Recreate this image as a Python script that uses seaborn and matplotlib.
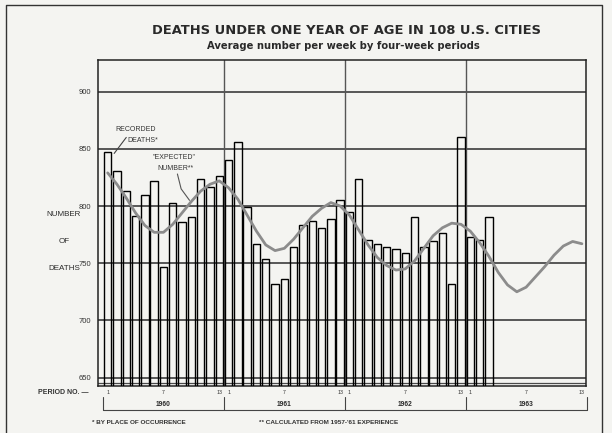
import numpy as np
import pandas as pd
import matplotlib
matplotlib.use('Agg')
import matplotlib.pyplot as plt
import matplotlib.transforms as mtransforms
from matplotlib.lines import Line2D
import seaborn as sns

# Datos (promedio semanal por periodo de 4 semanas)
years = [1960, 1961, 1962, 1963]
recorded_1960 = [847, 831, 813, 791, 810, 822, 747, 803, 786, 790, 824, 817, 826]
recorded_1961 = [840, 856, 799, 767, 754, 732, 736, 764, 783, 787, 781, 789, 805]
recorded_1962 = [795, 824, 770, 767, 764, 762, 759, 790, 764, 769, 776, 732, 860]
recorded_1963 = [773, 770, 790]

expected_1960 = [829, 819, 807, 794, 783, 777, 777, 784, 794, 804, 813, 819, 822]
expected_1961 = [816, 806, 792, 778, 766, 761, 763, 771, 781, 791, 798, 803, 800]
expected_1962 = [792, 779, 766, 755, 748, 744, 745, 752, 763, 774, 781, 785, 784]
expected_1963 = [778, 768, 756, 742, 731, 725, 729, 738, 747, 757, 765, 769, 767]

y_ticks = [650, 700, 750, 800, 850, 900]
period_labels = ['1', '7', '13']

recorded = recorded_1960 + recorded_1961 + recorded_1962 + recorded_1963
expected = expected_1960 + expected_1961 + expected_1962 + expected_1963

bars = pd.DataFrame({'pos': np.arange(len(recorded)) + 0.5, 'deaths': recorded})
curve = pd.DataFrame({'pos': np.arange(len(expected)) + 0.5, 'deaths': expected})

W, H = 612, 433
def fx(px):
    return px / W
def fy(py):
    return 1 - py / H

sns.set_theme(style='white')
plt.rcParams['font.family'] = ['Liberation Sans', 'DejaVu Sans']
narrow = ['Liberation Sans Narrow', 'Liberation Sans']

bg = '#f4f4f1'
ink = '#2a2a2a'
fig = plt.figure(figsize=(6.12, 4.33), dpi=100, facecolor=bg)
ax = fig.add_axes([fx(98), fy(386), fx(586) - fx(98), fy(60) - fy(386)])
ax.set_facecolor(bg)

# lineas de cuadricula
for v in y_ticks:
    ax.axhline(v, color='#4a4a4a', lw=1.3, zorder=1)
ax.axhline(645.5, color='#4a4a4a', lw=0.9, zorder=1)
for b in [13, 26, 39]:
    ax.axvline(b, color='#555555', lw=1.0, zorder=1)

# barras de defunciones registradas
sns.barplot(data=bars, x='pos', y='deaths', native_scale=True, fill=False,
            color='black', width=0.8, linewidth=1.0, errorbar=None, ax=ax, zorder=3)

# curva "esperada"
sns.lineplot(data=curve, x='pos', y='deaths', color='#8c8c8c', lw=2.0, ax=ax, zorder=4)

ax.set_xlim(-0.54, 51.94)
ax.set_ylim(642.6, 927.7)
ax.set_xticks([])
ax.set_yticks(y_ticks)
ax.set_yticklabels([str(v) for v in y_ticks], fontsize=5.5, color='#333333')
ax.tick_params(axis='y', direction='out', length=4, width=0.8, color='#333333', pad=1)
ax.set_xlabel('')
ax.set_ylabel('')
for s in ax.spines.values():
    s.set_color('#222222')
    s.set_linewidth(1.1)

# titulos
fig.text(fx(346), fy(30), 'DEATHS UNDER ONE YEAR OF AGE IN 108 U.S. CITIES',
         ha='center', va='center', fontsize=9.4, fontweight='bold', color=ink,
         family=['DejaVu Sans'])
fig.text(fx(343), fy(46), 'Average number per week by four-week periods',
         ha='center', va='center', fontsize=7.2, fontweight='bold', color=ink,
         family=['DejaVu Sans'])

# etiqueta del eje y
for txt, py in [('NUMBER', 214), ('OF', 241), ('DEATHS', 269)]:
    fig.text(fx(64), fy(py), txt, ha='center', va='center', fontsize=5.8, color=ink)

# anotaciones
ax.text(1.3, 866.5, 'RECORDED', fontsize=5.0, color='#333333', ha='left', va='center',
        family=narrow)
ax.text(2.6, 857, 'DEATHS*', fontsize=5.0, color='#333333', ha='left', va='center',
        family=narrow)
ax.plot([2.5, 1.2], [860, 846], color='#444444', lw=0.8, zorder=5)
ax.text(5.3, 842, '"EXPECTED"', fontsize=5.0, color='#333333', ha='left', va='center',
        family=narrow)
ax.text(5.8, 833, 'NUMBER**', fontsize=5.0, color='#333333', ha='left', va='center',
        family=narrow)
ax.plot([8.0, 8.4, 9.3], [828, 815, 805], color='#555555', lw=0.8, zorder=5)

# eje inferior: periodos y anos
blend = mtransforms.blended_transform_factory(ax.transData, fig.transFigure)
fig.text(fx(63), fy(393), 'PERIOD NO. \u2014', ha='center', va='center', fontsize=5.0,
         color='#333333', fontweight='bold')
for i, yr in enumerate(years):
    start = i * 13
    for lab in period_labels:
        p = start + int(lab) - 0.5
        ax.text(p, fy(393), lab, transform=blend, ha='center', va='center',
                fontsize=3.8, color='#333333')
    ax.text(start + 6.5, fy(404), str(yr), transform=blend, ha='center', va='center',
            fontsize=4.8, color=ink, fontweight='bold')

edges = [0, 13, 26, 39, 52]
for e in edges:
    fig.add_artist(Line2D([e, e], [fy(397), fy(410)], transform=blend, color='#444444', lw=0.8))
fig.add_artist(Line2D([0, 52], [fy(410), fy(410)], transform=blend, color='#444444', lw=0.8))

fig.text(fx(139), fy(422), '* BY PLACE OF OCCURRENCE', ha='center', va='center',
         fontsize=4.6, color='#333333', fontweight='bold', family=narrow)
fig.text(fx(329), fy(422), "** CALCULATED FROM 1957-'61 EXPERIENCE", ha='center', va='center',
         fontsize=4.6, color='#333333', fontweight='bold', family=narrow)

# marco de la pagina
fig.add_artist(Line2D([fx(6), fx(6), fx(602), fx(602)], [fy(433), fy(5), fy(5), fy(433)],
                      transform=fig.transFigure, color='#333333', lw=1.0))

fig.savefig('out.png', dpi=100, facecolor=bg)
